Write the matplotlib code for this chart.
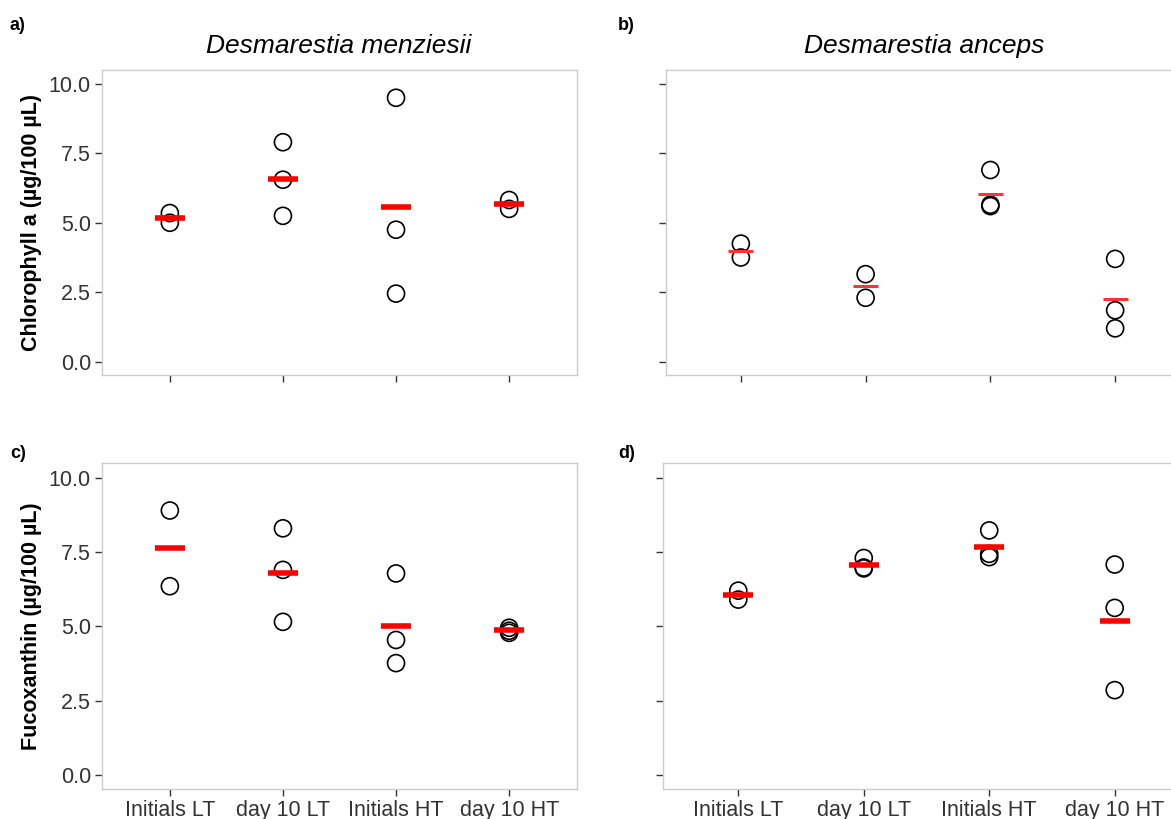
import matplotlib
matplotlib.use("Agg")
import matplotlib.pyplot as plt
import numpy as np

plt.rcParams['font.family'] = ['Liberation Sans', 'DejaVu Sans']

categories = ["Initials LT", "day 10 LT", "Initials HT", "day 10 HT"]

# Panel a: Chlorophyll a, Desmarestia menziesii
chl_menziesii = [[5.35, 5.0], [7.9, 6.55, 5.25], [9.5, 4.75, 2.45], [5.82, 5.5]]
# Panel b: Chlorophyll a, Desmarestia anceps
chl_anceps = [[4.25, 3.75], [3.15, 2.3], [6.9, 5.65, 5.6], [3.7, 1.85, 1.2]]
# Panel c: Fucoxanthin, Desmarestia menziesii
fuco_menziesii = [[8.9, 6.35], [8.3, 6.9, 5.15], [6.78, 4.54, 3.76], [4.95, 4.85, 4.78]]
# Panel d: Fucoxanthin, Desmarestia anceps
fuco_anceps = [[6.2, 5.9], [7.3, 6.95, 6.98], [8.23, 7.44, 7.33], [7.08, 5.62, 2.85]]

yticks = [0.0, 2.5, 5.0, 7.5, 10.0]
ytick_labels = ["0.0", "2.5", "5.0", "7.5", "10.0"]

W, H = 1171, 819
fig = plt.figure(figsize=(W / 100, H / 100), dpi=100)


def px_axes(l, t, r, b):
    return fig.add_axes([l / W, 1 - b / H, (r - l) / W, (b - t) / H])


def draw(ax, groups, show_y, show_x, half, lw, red):
    x = np.arange(1, len(categories) + 1)
    for xi, vals in zip(x, groups):
        ax.scatter([xi] * len(vals), vals, s=150, facecolors='none',
                   edgecolors='black', linewidths=1.2, zorder=3)
        m = np.mean(vals)
        ax.plot([xi - half, xi + half], [m, m], color=red, lw=lw,
                solid_capstyle='butt', zorder=4)
    ax.set_xlim(0.4, 4.6)
    ax.set_ylim(-0.48, 10.5)
    ax.set_xticks(x)
    ax.set_yticks(yticks)
    if show_x:
        ax.set_xticklabels(categories, fontsize=15.5, color='#333333')
    else:
        ax.set_xticklabels([])
    if show_y:
        ax.set_yticklabels(ytick_labels, fontsize=15.5, color='#333333')
    else:
        ax.set_yticklabels([])
    for s in ax.spines.values():
        s.set_color('#cccccc')
        s.set_linewidth(1.0)
    ax.tick_params(axis='both', length=5, width=1.0, color='#333333', pad=3)


ax_a = px_axes(102, 70, 577, 375)
ax_b = px_axes(666, 70, 1190, 375)
ax_c = px_axes(102, 463, 577, 789)
ax_d = px_axes(663, 463, 1190, 789)

draw(ax_a, chl_menziesii, True, False, 0.13, 4, '#ff0000')
draw(ax_b, chl_anceps, False, False, 0.1, 2.2, '#ff3333')
draw(ax_c, fuco_menziesii, True, True, 0.13, 4, '#ff0000')
draw(ax_d, fuco_anceps, False, True, 0.12, 4, '#ff0000')

ax_a.set_ylabel("Chlorophyll a (µg/100 µL)", fontsize=15.5, fontweight='bold')
ax_c.set_ylabel("Fucoxanthin (µg/100 µL)", fontsize=15.5, fontweight='bold')
ax_a.yaxis.set_label_coords(-0.127, 0.5)
ax_c.yaxis.set_label_coords(-0.127, 0.5)

fig.text(339 / W, 1 - 46 / H, "Desmarestia menziesii", fontsize=19, style='italic',
         ha='center', va='center')
fig.text(924 / W, 1 - 46 / H, "Desmarestia anceps", fontsize=19, style='italic',
         ha='center', va='center')

for lab, xp, yp in [("a)", 10, 25), ("b)", 618, 25), ("c)", 10, 453), ("d)", 618, 453)]:
    fig.text(xp / W, 1 - yp / H, lab, fontsize=13, fontweight='bold', ha='left', va='center')

fig.savefig("out.png", dpi=100)
